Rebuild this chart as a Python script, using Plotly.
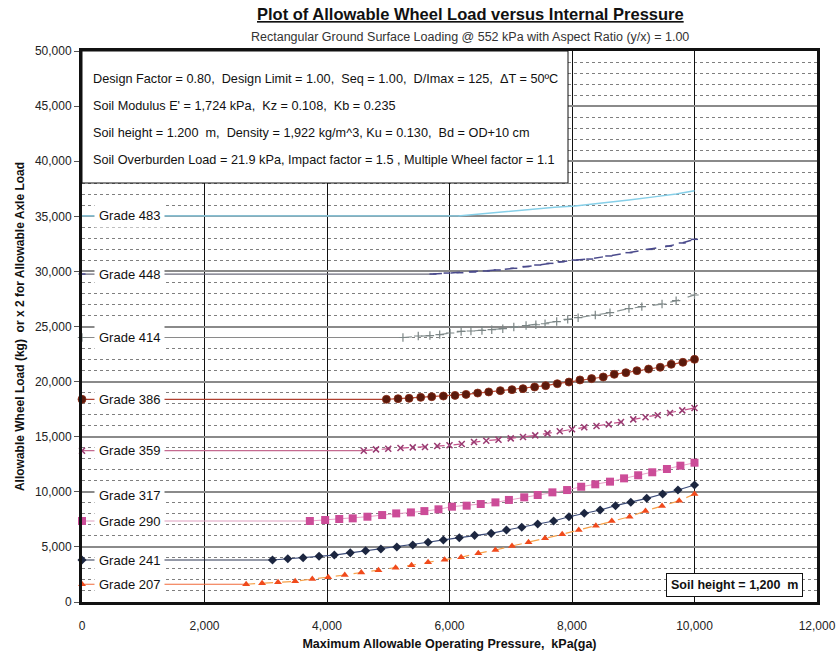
import plotly.graph_objects as go

# Allowable wheel load (kg) against maximum allowable operating pressure (kPa) per pipe grade
pressure_483 = [0, 6140, 6610, 7170, 7720, 8050, 8490, 8930, 9370, 9700, 10000]
load_483 = [35030, 35030, 35270, 35510, 35820, 35930, 36180, 36480, 36780, 37020, 37320]

pressure_448 = [0, 5730, 5960, 6170, 6380, 6600, 6780, 7050, 7250, 7440, 7640, 7820, 8050,
                8290, 8600, 8930, 9260, 9580, 9800, 10000]
load_448 = [29760, 29760, 29850, 29880, 29950, 30040, 30130, 30280, 30440, 30580, 30730, 30880,
            31030, 31120, 31400, 31700, 32000, 32300, 32580, 32910]

pressure_414 = [0, 5240, 5490, 5680, 5840, 6010, 6190, 6350, 6530, 6690, 6870, 7050, 7250, 7410,
                7560, 7750, 7930, 8100, 8380, 8620, 8930, 9140, 9470, 9700, 10000]
load_414 = [24000, 24000, 24140, 24180, 24260, 24410, 24550, 24590, 24640, 24710, 24800, 24950,
            25090, 25160, 25250, 25450, 25650, 25800, 26040, 26250, 26630, 26800, 27040, 27340, 27860]

pressure_386 = [0, 4970, 5160, 5340, 5530, 5710, 5900, 6090, 6270, 6460, 6640, 6830, 7020, 7200,
                7390, 7570, 7760, 7950, 8130, 8320, 8510, 8690, 8880, 9060, 9250, 9440, 9620, 9810, 10000]
load_386 = [18390, 18390, 18450, 18480, 18570, 18630, 18690, 18750, 18840, 18960, 19060, 19180,
            19270, 19360, 19510, 19630, 19810, 19960, 20150, 20270, 20420, 20660, 20810, 20990,
            21140, 21300, 21570, 21750, 22020]

pressure_359 = [0, 4600, 4800, 5000, 5200, 5400, 5600, 5800, 6000, 6200, 6400, 6600, 6800, 7000,
                7200, 7400, 7600, 7800, 8000, 8200, 8400, 8600, 8800, 9000, 9200, 9400, 9600, 9800, 10000]
load_359 = [13730, 13730, 13850, 13910, 13970, 14030, 14070, 14160, 14220, 14340, 14520, 14640,
            14730, 14850, 14970, 15120, 15300, 15490, 15670, 15850, 15970, 16120, 16330, 16570,
            16760, 16940, 17150, 17390, 17600]

pressure_290 = [0, 3720, 3970, 4200, 4420, 4660, 4900, 5130, 5370, 5590, 5820, 6040, 6280, 6510,
                6750, 6970, 7220, 7440, 7680, 7920, 8150, 8380, 8620, 8850, 9080, 9310, 9550, 9770, 10000]
load_290 = [7350, 7350, 7440, 7530, 7590, 7740, 7890, 8040, 8130, 8250, 8410, 8650, 8740, 8890,
            9040, 9260, 9500, 9710, 9950, 10160, 10460, 10680, 10920, 11220, 11500, 11770, 12070,
            12370, 12640]

pressure_241 = [0, 3110, 3360, 3610, 3870, 4120, 4380, 4630, 4880, 5140, 5400, 5650, 5900, 6160,
                6410, 6680, 6930, 7180, 7440, 7700, 7950, 8200, 8460, 8710, 8960, 9220, 9480, 9730, 10000]
load_241 = [3810, 3810, 3930, 4010, 4150, 4260, 4460, 4650, 4810, 4990, 5170, 5420, 5630, 5830,
            6050, 6230, 6530, 6780, 7080, 7350, 7740, 8050, 8350, 8740, 9050, 9410, 9800, 10160, 10620]

pressure_207 = [0, 2680, 2940, 3200, 3480, 3760, 4020, 4290, 4560, 4840, 5120, 5380, 5650, 5920,
                6190, 6470, 6750, 7020, 7290, 7560, 7840, 8110, 8390, 8650, 8940, 9200, 9470, 9750, 10000]
load_207 = [1610, 1610, 1700, 1790, 1880, 2080, 2240, 2450, 2680, 2890, 3110, 3330, 3610, 3840,
            4060, 4420, 4720, 5080, 5420, 5780, 6140, 6530, 6920, 7350, 7740, 8260, 8710, 9190, 9800]

grade_labels = ["Grade 483", "Grade 448", "Grade 414", "Grade 386", "Grade 359",
                "Grade 317", "Grade 290", "Grade 241", "Grade 207"]
grade_label_loads = [35030, 29760, 24000, 18390, 13730, 9700, 7350, 3810, 1610]

x_ticks = [0, 2000, 4000, 6000, 8000, 10000, 12000]
y_ticks = [0, 5000, 10000, 15000, 20000, 25000, 30000, 35000, 40000, 45000, 50000]

info_lines = [
    "Design Factor = 0.80,  Design Limit = 1.00,  Seq = 1.00,  D/Imax = 125,  \u0394T = 50\u00baC",
    "Soil Modulus E' = 1,724 kPa,  Kz = 0.108,  Kb = 0.235",
    "Soil height = 1.200  m,  Density = 1,922 kg/m^3, Ku = 0.130,  Bd = OD+10 cm",
    "Soil Overburden Load = 21.9 kPa, Impact factor = 1.5 , Multiple Wheel factor = 1.1",
]

FONT = "Arial, Liberation Sans, sans-serif"

# plot-area geometry in pixels, used to place paper-referenced decorations
PL, PR, PT, PB = 82, 817, 51, 602
PW, PH = PR - PL, PB - PT


def px(x):
    return (x - PL) / PW


def py(y):
    return (PB - y) / PH


fig = go.Figure()

series = [
    (pressure_483, load_483, dict(color="#86cfe8", width=1.4), None, "#86cfe8"),
    (pressure_448, load_448, dict(color="#4a4a8c", width=1.5, dash="dash"),
     dict(symbol="line-ew", size=5, line=dict(color="#4a4a8c", width=1.5)), "#6a6a7a"),
    (pressure_414, load_414, dict(color="#8a9494", width=1.2, dash="dash"),
     dict(symbol="cross-thin", size=6, line=dict(color="#7c8686", width=1.2)), "#8a8a8a"),
    (pressure_386, load_386, dict(color="#c0503a", width=1.2),
     dict(symbol="circle", size=8, color="#5a1a0c", line=dict(color="#8a2a14", width=0.8)), "#b04030"),
    (pressure_359, load_359, dict(color="#c4528a", width=1.2, dash="dash"),
     dict(symbol="x-thin", size=6, line=dict(color="#9a3a72", width=1.5)), "#c46a90"),
    (pressure_290, load_290, dict(color="#e8a0c8", width=1),
     dict(symbol="square", size=8, color="#cc4c98"), "#e0a0c0"),
    (pressure_241, load_241, dict(color="#3a4a78", width=1.2),
     dict(symbol="diamond", size=7, color="#1c2640"), "#2a3450"),
    (pressure_207, load_207, dict(color="#f7a048", width=1.2, dash="dash"),
     dict(symbol="triangle-up", size=7, color="#f04a1c"), "#f06a3a"),
]

for xs, ys, line_style, marker_style, lead_color in series:
    # thin lead-in from the axis to where the curve begins
    fig.add_trace(go.Scatter(
        x=xs[:2], y=ys[:2], mode="lines",
        line=dict(color=lead_color, width=1.2),
        showlegend=False, hoverinfo="skip",
    ))
    fig.add_trace(go.Scatter(
        x=xs[1:], y=ys[1:],
        mode="lines+markers" if marker_style else "lines",
        line=line_style, marker=marker_style,
        showlegend=False, hoverinfo="skip",
    ))
    if marker_style:
        fig.add_trace(go.Scatter(
            x=xs[:1], y=ys[:1], mode="markers", marker=marker_style,
            cliponaxis=False, showlegend=False, hoverinfo="skip",
        ))

# Grade labels sit on each curve's starting load, masking the lead-in line
for name, load in zip(grade_labels, grade_label_loads):
    fig.add_annotation(
        x=0, y=load, xref="x", yref="y", text=name, showarrow=False,
        xanchor="left", yanchor="middle", xshift=12,
        font=dict(family=FONT, size=13, color="#111111"),
        bgcolor="white", borderpad=4,
    )

# Parameter box in the upper-left corner of the plot
fig.add_shape(type="rect", xref="paper", yref="paper",
              x0=0, x1=px(568), y0=py(183), y1=1,
              fillcolor="white", line=dict(color="#111111", width=1), layer="above")
for i, txt in enumerate(info_lines):
    fig.add_annotation(
        x=px(91), y=py(79 + 27 * i), xref="paper", yref="paper",
        text=txt, showarrow=False, xanchor="left", yanchor="middle",
        font=dict(family=FONT, size=12.7, color="#111111"),
    )

# Soil height tag in the lower-right corner
fig.add_annotation(
    x=px(734), y=py(585), xref="paper", yref="paper",
    xanchor="center", yanchor="middle",
    text="<b>Soil height = 1,200  m</b>", showarrow=False,
    font=dict(family=FONT, size=12.5, color="#111111"),
    bgcolor="white", bordercolor="#111111", borderwidth=1, borderpad=4,
)

# Titles
fig.add_annotation(
    x=px(470), y=py(14), xref="paper", yref="paper", showarrow=False,
    xanchor="center", yanchor="middle",
    text="<b><u>Plot of Allowable Wheel Load versus Internal Pressure</u></b>",
    font=dict(family=FONT, size=16.5, color="#111111"),
)
fig.add_annotation(
    x=px(470), y=py(37), xref="paper", yref="paper", showarrow=False,
    xanchor="center", yanchor="middle",
    text="Rectangular Ground Surface Loading @ 552 kPa with Aspect Ratio (y/x) = 1.00",
    font=dict(family=FONT, size=12.5, color="#333333"),
)

fig.update_xaxes(
    range=[0, 12000], tickvals=x_ticks, tickformat=",d",
    showgrid=True, gridcolor="#111111", gridwidth=1,
    showline=True, linecolor="#111111", linewidth=3, mirror=True,
    ticks="", zeroline=False, ticklabelstandoff=11, automargin=False,
    tickfont=dict(family=FONT, size=12, color="#222222"),
    title=dict(text="<b>Maximum Allowable Operating Pressure,  kPa(ga)</b>",
               font=dict(family=FONT, size=12.5, color="#111111"), standoff=7),
)
fig.update_yaxes(
    range=[0, 50000], tickvals=y_ticks, tickformat=",d",
    showgrid=True, gridcolor="#8a8a8a", gridwidth=1.5,
    minor=dict(dtick=1000, showgrid=True, gridcolor="#7f7f7f", gridwidth=1, griddash="dot"),
    showline=True, linecolor="#111111", linewidth=3, mirror=True,
    ticks="outside", ticklen=5, tickcolor="#555555", zeroline=False, automargin=False,
    tickfont=dict(family=FONT, size=12, color="#222222"),
    title=dict(text="<b>Allowable Wheel Load (kg)  or x 2 for Allowable Axle Load</b>",
               font=dict(family=FONT, size=12, color="#111111"), standoff=8),
)

fig.update_layout(
    width=840, height=662,
    margin=dict(l=PL, r=840 - PR, t=PT, b=662 - PB),
    paper_bgcolor="white", plot_bgcolor="white",
    font=dict(family=FONT),
)

fig.write_html("out.html")
